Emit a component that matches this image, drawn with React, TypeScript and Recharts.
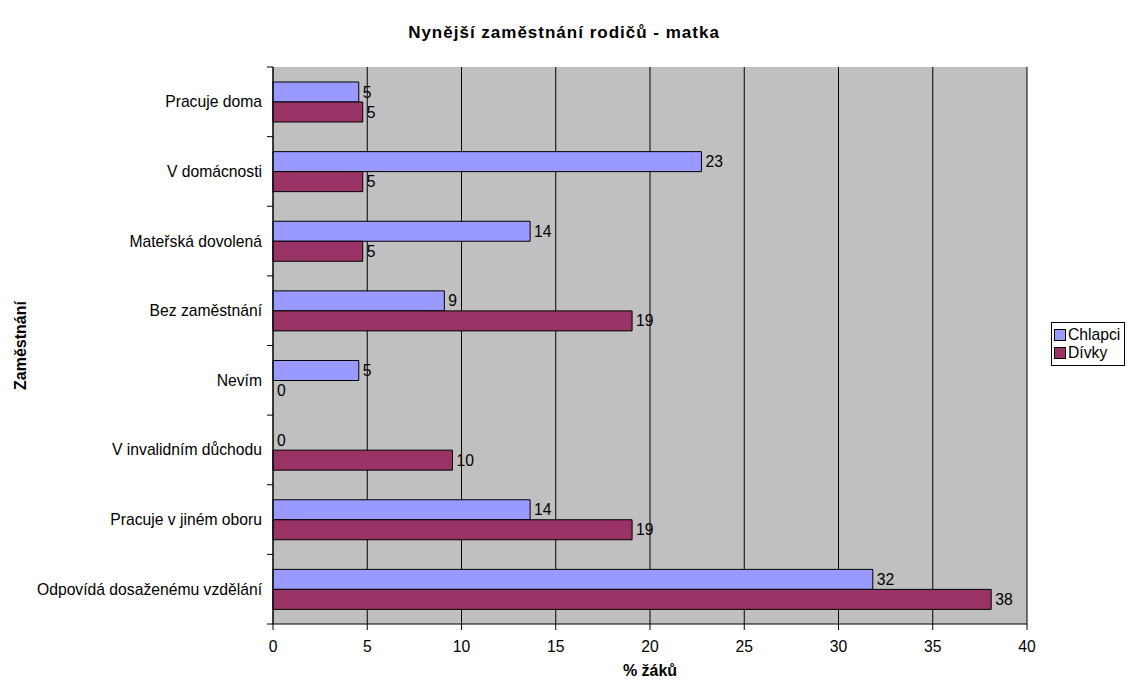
import React from 'react';
import { BarChart, Bar, XAxis, YAxis, CartesianGrid, Legend, LabelList, Label, Rectangle } from 'recharts';

const categories = [
  'Pracuje doma',
  'V domácnosti',
  'Mateřská dovolená',
  'Bez zaměstnání',
  'Nevím',
  'V invalidním důchodu',
  'Pracuje v jiném oboru',
  'Odpovídá dosaženému vzdělání',
];
const chlapci = [4.55, 22.73, 13.64, 9.09, 4.55, 0, 13.64, 31.82];
const divky = [4.76, 4.76, 4.76, 19.05, 0, 9.52, 19.05, 38.1];
const xTicks = [0, 5, 10, 15, 20, 25, 30, 35, 40];

const data = categories.map((name, i) => ({ name, chlapci: chlapci[i], divky: divky[i] }));

const W = 1128;
const H = 682;
const TOP = 67;
const BOTTOM = 58;
const BAND = (H - TOP - BOTTOM) / categories.length;
const FONT = 15.7;

// category ticks sit between the categories, like the original spreadsheet chart
const CategoryTick = (props: any) => {
  const { x, y, payload, index } = props;
  const axisX = x + 11;
  return (
    <g>
      <line x1={axisX - 6} x2={axisX} y1={y - BAND / 2} y2={y - BAND / 2} stroke="#000" />
      {index === categories.length - 1 && (
        <line x1={axisX - 6} x2={axisX} y1={y + BAND / 2} y2={y + BAND / 2} stroke="#000" />
      )}
      <text x={x} y={y} textAnchor="end" dominantBaseline="central" fontSize={FONT} fill="#000">
        {payload.value}
      </text>
    </g>
  );
};

const YTitle = (props: any) => {
  const { viewBox } = props;
  const cx = viewBox.x + 20;
  const cy = viewBox.y + viewBox.height / 2;
  return (
    <text
      x={cx}
      y={cy}
      transform={`rotate(-90, ${cx}, ${cy})`}
      textAnchor="middle"
      dominantBaseline="central"
      fontSize={16}
      fontWeight="bold"
      fill="#000"
    >
      Zaměstnání
    </text>
  );
};

const LegendBox = () => (
  <div
    style={{
      border: '1px solid #000',
      background: '#fff',
      padding: '3px 4px 3px 2px',
      fontSize: FONT,
      lineHeight: '18px',
      color: '#000',
    }}
  >
    {[
      { label: 'Chlapci', color: '#9999FF' },
      { label: 'Dívky', color: '#993366' },
    ].map((it) => (
      <div key={it.label} style={{ display: 'flex', alignItems: 'center' }}>
        <span
          style={{
            display: 'inline-block',
            width: 10,
            height: 10,
            background: it.color,
            border: '1px solid #000',
            marginRight: 2,
          }}
        />
        {it.label}
      </div>
    ))}
  </div>
);

const roundLabel = (v: any) => String(Math.round(Number(v)));

// zero values still need their "0" label, so give them a hairline bar and hide it
const zeroMin = (value: any) => (Number(value) === 0 ? 0.01 : 0);
const BarShape = (props: any) => (props.width < 0.5 ? <g /> : <Rectangle {...props} />);

export default function App() {
  return (
    <div
      style={{
        position: 'absolute',
        left: 0,
        top: 0,
        width: W,
        height: H,
        background: '#fff',
        fontFamily: '"Liberation Sans", Arial, sans-serif',
      }}
    >
      <div
        style={{
          position: 'absolute',
          top: 24,
          left: 0,
          width: W,
          textAlign: 'center',
          fontSize: 17,
          lineHeight: '17px',
          letterSpacing: 1,
          fontWeight: 'bold',
          color: '#000',
        }}
      >
        Nynější zaměstnání rodičů - matka
      </div>
      <BarChart
        width={W}
        height={H}
        data={data}
        layout="vertical"
        margin={{ top: TOP, right: 101, bottom: 4, left: 0 }}
        barGap={0}
      >
        <CartesianGrid horizontal={false} stroke="#000" fill="#C0C0C0" fillOpacity={1} />
        <XAxis
          type="number"
          domain={[0, 40]}
          ticks={xTicks}
          height={54}
          tickSize={6}
          tickMargin={11}
          axisLine={{ stroke: '#000' }}
          tickLine={{ stroke: '#000' }}
          tick={{ fontSize: FONT, fill: '#000' }}
        >
          <Label value="% žáků" position="insideBottom" offset={2} fontSize={16} fontWeight="bold" fill="#000" />
        </XAxis>
        <YAxis
          type="category"
          dataKey="name"
          width={273}
          tickSize={6}
          tickMargin={5}
          axisLine={{ stroke: '#000' }}
          tickLine={false}
          tick={<CategoryTick />}
          interval={0}
        >
          <Label content={<YTitle />} />
        </YAxis>
        <Legend
          layout="horizontal"
          verticalAlign="middle"
          align="center"
          content={<LegendBox />}
          wrapperStyle={{ left: 1051, top: 322, width: 'auto', height: 'auto' }}
        />
        <Bar
          dataKey="chlapci"
          name="Chlapci"
          fill="#9999FF"
          stroke="#000"
          barSize={20}
          minPointSize={zeroMin}
          shape={<BarShape />}
          isAnimationActive={false}
        >
          <LabelList dataKey="chlapci" position="right" offset={4} fontSize={FONT} fill="#000" formatter={roundLabel} />
        </Bar>
        <Bar
          dataKey="divky"
          name="Dívky"
          fill="#993366"
          stroke="#000"
          barSize={20}
          minPointSize={zeroMin}
          shape={<BarShape />}
          isAnimationActive={false}
        >
          <LabelList dataKey="divky" position="right" offset={4} fontSize={FONT} fill="#000" formatter={roundLabel} />
        </Bar>
      </BarChart>
    </div>
  );
}
